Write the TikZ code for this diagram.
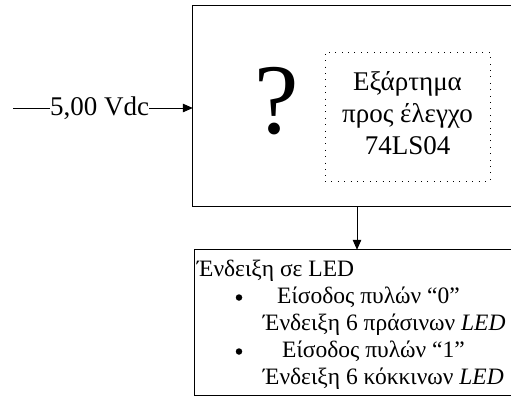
\documentclass[tikz,border=0pt]{standalone}
\usepackage{fontspec}
\setmainfont{Liberation Serif}
\usetikzlibrary{arrows.meta}
\tikzset{
  boxline/.style={line width=1.2bp},
  arr/.style={line width=1bp, -{Triangle[length=10bp,width=8.5bp]}},
  big/.style={font=\fontsize{27bp}{32bp}\selectfont, inner sep=0pt},
  small/.style={font=\fontsize{23.5bp}{27bp}\selectfont, anchor=base west, inner sep=0pt},
  bullet/.style={circle, fill, inner sep=0pt, minimum size=6.5bp},
}
\begin{document}
\begin{tikzpicture}[x=1bp,y=-1bp]
\useasboundingbox (0,0) rectangle (511,397);
\clip (0,0) rectangle (511,397);
\coordinate (R) at (515,0);
% main box (continues past the right edge)
\node[minimum width=322bp, minimum height=200bp, inner sep=0pt] (main) at (354,106) {};
\draw[boxline] (main.north -| R) -- (main.north west) -- (main.south west) -- (main.south -| R);
\node[font=\fontsize{100bp}{100bp}\selectfont, inner sep=0pt] (q) at (277,101.5) {?};
\node[draw, line width=0.8bp, dash pattern=on 0.8bp off 5.6bp, minimum width=165bp, minimum height=129bp, inner sep=0pt] (dut) at (407.5,116.5) {};
\node[big, anchor=base] (t1) at (407.5,90) {Εξάρτημα};
\node[big, anchor=base] (t2) at (407.5,122) {προς έλεγχο};
\node[big, anchor=base] (t3) at (407.5,154) {74LS04};
% input
\coordinate (in) at (13,108);
\node[big, anchor=west] (v) at (50,108) {5,00 Vdc};
\draw[line width=1bp] (in) -- (v.west |- in);
\draw[arr] (v.east |- in) -- (main.west |- in);
% output box (continues past the right edge)
\node[minimum width=320bp, minimum height=145bp, inner sep=0pt] (led) at (355,322.5) {};
\draw[boxline] (led.north -| R) -- (led.north west) -- (led.south west) -- (led.south -| R);
\coordinate (ax) at (357,0);
\draw[arr] (main.south -| ax) -- (led.north -| ax);
\node[small] (l1) at (197,276) {Ένδειξη σε LED};
\node[small] (l2) at (277,303) {Είσοδος πυλών “0”};
\node[small] (l3) at (263,330) {Ένδειξη 6 πράσινων \textit{LED}};
\node[small] (l4) at (282,357) {Είσοδος πυλών “1”};
\node[small] (l5) at (263,384) {Ένδειξη 6 κόκκινων \textit{LED}};
\node[bullet] (b1) at (239,297.5) {};
\node[bullet] (b2) at (239,351.5) {};
\end{tikzpicture}
\end{document}
